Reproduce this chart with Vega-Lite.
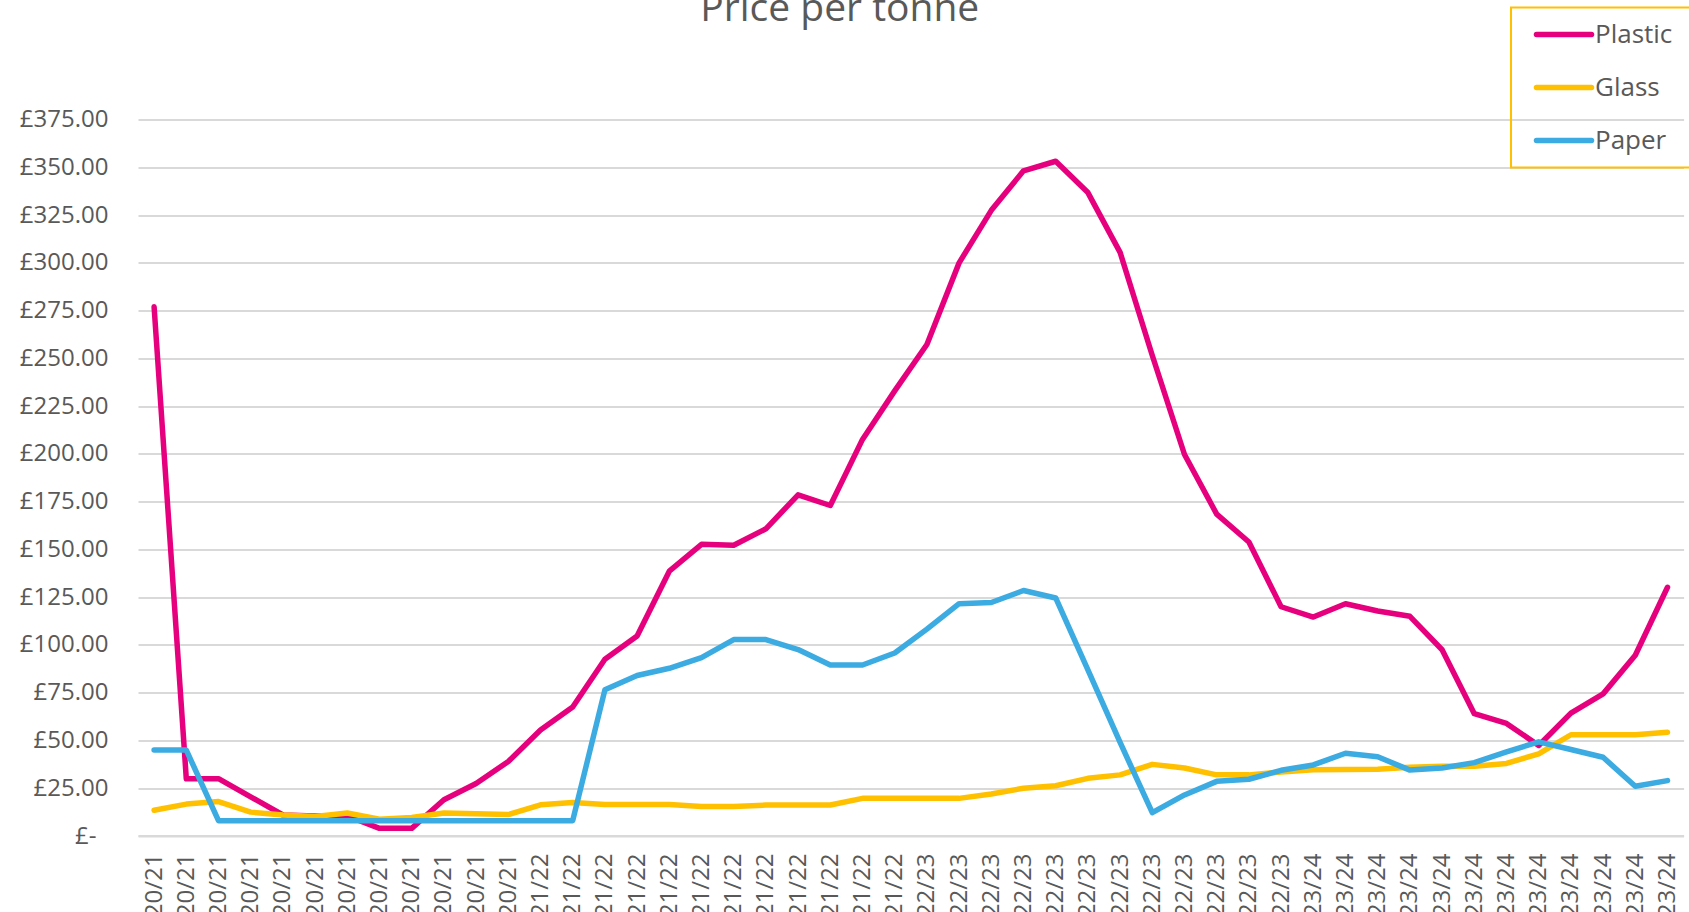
{
  "$schema": "https://vega.github.io/schema/vega-lite/v6.json",
  "autosize": {"type": "none"},
  "width": 1545.6,
  "height": 716.4,
  "padding": {"left": 138, "top": 119.6, "right": 5.4, "bottom": 76},
  "background": "white",
  "title": {
    "text": "Price per tonne",
    "font": "Open Sans",
    "fontSize": 39,
    "fontWeight": "normal",
    "color": "#595959",
    "anchor": "middle",
    "frame": "group",
    "dx": -71,
    "baseline": "alphabetic",
    "offset": -53
  },
  "data": {
    "values": [
      {"m":"20/21-01","type":"Plastic","price":277},{"m":"20/21-02","type":"Plastic","price":30},{"m":"20/21-03","type":"Plastic","price":30},{"m":"20/21-04","type":"Plastic","price":20.5},{"m":"20/21-05","type":"Plastic","price":11},{"m":"20/21-06","type":"Plastic","price":10.5},{"m":"20/21-07","type":"Plastic","price":10.5},{"m":"20/21-08","type":"Plastic","price":4},{"m":"20/21-09","type":"Plastic","price":4},{"m":"20/21-10","type":"Plastic","price":19},{"m":"20/21-11","type":"Plastic","price":27.5},{"m":"20/21-12","type":"Plastic","price":39},
      {"m":"21/22-01","type":"Plastic","price":55.5},{"m":"21/22-02","type":"Plastic","price":67.5},{"m":"21/22-03","type":"Plastic","price":92.5},{"m":"21/22-04","type":"Plastic","price":104.7},{"m":"21/22-05","type":"Plastic","price":138.6},{"m":"21/22-06","type":"Plastic","price":152.7},{"m":"21/22-07","type":"Plastic","price":152.2},{"m":"21/22-08","type":"Plastic","price":160.8},{"m":"21/22-09","type":"Plastic","price":178.6},{"m":"21/22-10","type":"Plastic","price":173},{"m":"21/22-11","type":"Plastic","price":207.6},{"m":"21/22-12","type":"Plastic","price":233},
      {"m":"22/23-01","type":"Plastic","price":257.3},{"m":"22/23-02","type":"Plastic","price":300},{"m":"22/23-03","type":"Plastic","price":327.5},{"m":"22/23-04","type":"Plastic","price":348.2},{"m":"22/23-05","type":"Plastic","price":353.2},{"m":"22/23-06","type":"Plastic","price":336.8},{"m":"22/23-07","type":"Plastic","price":305.5},{"m":"22/23-08","type":"Plastic","price":251.5},{"m":"22/23-09","type":"Plastic","price":199.7},{"m":"22/23-10","type":"Plastic","price":168.5},{"m":"22/23-11","type":"Plastic","price":153.9},{"m":"22/23-12","type":"Plastic","price":120},
      {"m":"23/24-01","type":"Plastic","price":114.6},{"m":"23/24-02","type":"Plastic","price":121.6},{"m":"23/24-03","type":"Plastic","price":117.8},{"m":"23/24-04","type":"Plastic","price":115},{"m":"23/24-05","type":"Plastic","price":97.5},{"m":"23/24-06","type":"Plastic","price":64},{"m":"23/24-07","type":"Plastic","price":58.9},{"m":"23/24-08","type":"Plastic","price":47.4},{"m":"23/24-09","type":"Plastic","price":64.3},{"m":"23/24-10","type":"Plastic","price":74.4},{"m":"23/24-11","type":"Plastic","price":94.6},{"m":"23/24-12","type":"Plastic","price":130.2},

      {"m":"20/21-01","type":"Glass","price":13.5},{"m":"20/21-02","type":"Glass","price":16.7},{"m":"20/21-03","type":"Glass","price":18},{"m":"20/21-04","type":"Glass","price":12.5},{"m":"20/21-05","type":"Glass","price":11},{"m":"20/21-06","type":"Glass","price":10.2},{"m":"20/21-07","type":"Glass","price":12},{"m":"20/21-08","type":"Glass","price":8.8},{"m":"20/21-09","type":"Glass","price":9.7},{"m":"20/21-10","type":"Glass","price":12},{"m":"20/21-11","type":"Glass","price":11.6},{"m":"20/21-12","type":"Glass","price":11.2},
      {"m":"21/22-01","type":"Glass","price":16.3},{"m":"21/22-02","type":"Glass","price":17.5},{"m":"21/22-03","type":"Glass","price":16.5},{"m":"21/22-04","type":"Glass","price":16.5},{"m":"21/22-05","type":"Glass","price":16.5},{"m":"21/22-06","type":"Glass","price":15.5},{"m":"21/22-07","type":"Glass","price":15.5},{"m":"21/22-08","type":"Glass","price":16.2},{"m":"21/22-09","type":"Glass","price":16.2},{"m":"21/22-10","type":"Glass","price":16.2},{"m":"21/22-11","type":"Glass","price":19.7},{"m":"21/22-12","type":"Glass","price":19.7},
      {"m":"22/23-01","type":"Glass","price":19.7},{"m":"22/23-02","type":"Glass","price":19.7},{"m":"22/23-03","type":"Glass","price":22},{"m":"22/23-04","type":"Glass","price":25},{"m":"22/23-05","type":"Glass","price":26.3},{"m":"22/23-06","type":"Glass","price":30.2},{"m":"22/23-07","type":"Glass","price":32},{"m":"22/23-08","type":"Glass","price":37.5},{"m":"22/23-09","type":"Glass","price":35.6},{"m":"22/23-10","type":"Glass","price":32},{"m":"22/23-11","type":"Glass","price":32},{"m":"22/23-12","type":"Glass","price":33.5},
      {"m":"23/24-01","type":"Glass","price":34.7},{"m":"23/24-02","type":"Glass","price":34.8},{"m":"23/24-03","type":"Glass","price":35},{"m":"23/24-04","type":"Glass","price":36},{"m":"23/24-05","type":"Glass","price":36.5},{"m":"23/24-06","type":"Glass","price":36.5},{"m":"23/24-07","type":"Glass","price":38},{"m":"23/24-08","type":"Glass","price":43},{"m":"23/24-09","type":"Glass","price":53},{"m":"23/24-10","type":"Glass","price":53},{"m":"23/24-11","type":"Glass","price":53},{"m":"23/24-12","type":"Glass","price":54.3},

      {"m":"20/21-01","type":"Paper","price":45},{"m":"20/21-02","type":"Paper","price":45},{"m":"20/21-03","type":"Paper","price":8},{"m":"20/21-04","type":"Paper","price":8},{"m":"20/21-05","type":"Paper","price":8},{"m":"20/21-06","type":"Paper","price":8},{"m":"20/21-07","type":"Paper","price":8},{"m":"20/21-08","type":"Paper","price":8},{"m":"20/21-09","type":"Paper","price":8},{"m":"20/21-10","type":"Paper","price":8},{"m":"20/21-11","type":"Paper","price":8},{"m":"20/21-12","type":"Paper","price":8},
      {"m":"21/22-01","type":"Paper","price":8},{"m":"21/22-02","type":"Paper","price":8},{"m":"21/22-03","type":"Paper","price":76.5},{"m":"21/22-04","type":"Paper","price":84},{"m":"21/22-05","type":"Paper","price":87.8},{"m":"21/22-06","type":"Paper","price":93.4},{"m":"21/22-07","type":"Paper","price":102.8},{"m":"21/22-08","type":"Paper","price":102.8},{"m":"21/22-09","type":"Paper","price":97.6},{"m":"21/22-10","type":"Paper","price":89.5},{"m":"21/22-11","type":"Paper","price":89.5},{"m":"21/22-12","type":"Paper","price":95.8},
      {"m":"22/23-01","type":"Paper","price":108.3},{"m":"22/23-02","type":"Paper","price":121.6},{"m":"22/23-03","type":"Paper","price":122.2},{"m":"22/23-04","type":"Paper","price":128.5},{"m":"22/23-05","type":"Paper","price":124.6},{"m":"22/23-06","type":"Paper","price":87},{"m":"22/23-07","type":"Paper","price":49},{"m":"22/23-08","type":"Paper","price":12.2},{"m":"22/23-09","type":"Paper","price":21.5},{"m":"22/23-10","type":"Paper","price":28.6},{"m":"22/23-11","type":"Paper","price":29.7},{"m":"22/23-12","type":"Paper","price":34.4},
      {"m":"23/24-01","type":"Paper","price":37.2},{"m":"23/24-02","type":"Paper","price":43.3},{"m":"23/24-03","type":"Paper","price":41.5},{"m":"23/24-04","type":"Paper","price":34.5},{"m":"23/24-05","type":"Paper","price":35.6},{"m":"23/24-06","type":"Paper","price":38.4},{"m":"23/24-07","type":"Paper","price":44},{"m":"23/24-08","type":"Paper","price":49.3},{"m":"23/24-09","type":"Paper","price":45.3},{"m":"23/24-10","type":"Paper","price":41.2},{"m":"23/24-11","type":"Paper","price":26},{"m":"23/24-12","type":"Paper","price":29}
    ]
  },
  "mark": {"type": "line", "strokeWidth": 5.5, "strokeCap": "round", "strokeJoin": "round"},
  "encoding": {
    "x": {
      "field": "m",
      "type": "ordinal",
      "sort": null,
      "scale": {"type": "point", "padding": 0.5},
      "axis": {
        "title": null,
        "labelExpr": "slice(datum.value, 0, 5)",
        "labelAngle": -90,
        "labelFont": "Open Sans",
        "labelFontSize": 24,
        "labelColor": "#595959",
        "labelPadding": 17,
        "ticks": false,
        "grid": false,
        "domainColor": "#D9D9D9",
        "domainWidth": 2,
        "labelOverlap": false
      }
    },
    "y": {
      "field": "price",
      "type": "quantitative",
      "scale": {"domain": [0, 375], "nice": false},
      "axis": {
        "title": null,
        "values": [0,25,50,75,100,125,150,175,200,225,250,275,300,325,350,375],
        "labelExpr": "datum.value == 0 ? '£-' : '£' + format(datum.value, ',.2f')",
        "labelFont": "Open Sans",
        "labelFontSize": 24,
        "labelColor": "#595959",
        "labelPadding": {"condition": {"test": "datum.value == 0", "value": 42}, "value": 30},
        "ticks": false,
        "domain": false,
        "grid": true,
        "gridColor": "#D9D9D9",
        "gridWidth": 2
      }
    },
    "color": {
      "field": "type",
      "type": "nominal",
      "sort": ["Plastic", "Glass", "Paper"],
      "scale": {"domain": ["Plastic", "Glass", "Paper"], "range": ["#E6007E", "#FFC000", "#3BABE2"]},
      "legend": {
        "title": null,
        "orient": "none",
        "legendX": 1373,
        "legendY": -112,
        "strokeColor": "#FFC000",
        "padding": 14,
        "symbolType": "M-5,0H5",
        "symbolSize": 121,
        "symbolStrokeWidth": 5.5,
        "symbolOffset": 26,
        "labelExpr": "datum.label + '\u2800\u2800\u2800\u2800'",
        "labelFont": "Open Sans",
        "labelFontSize": 26,
        "labelColor": "#595959",
        "labelOffset": 18,
        "rowPadding": 27,
        "encode": {
          "legend": {"update": {"strokeWidth": {"value": 2}}},
          "symbols": {"update": {"strokeCap": {"value": "round"}}}
        }
      }
    }
  },
  "config": {"view": {"stroke": null}}
}
